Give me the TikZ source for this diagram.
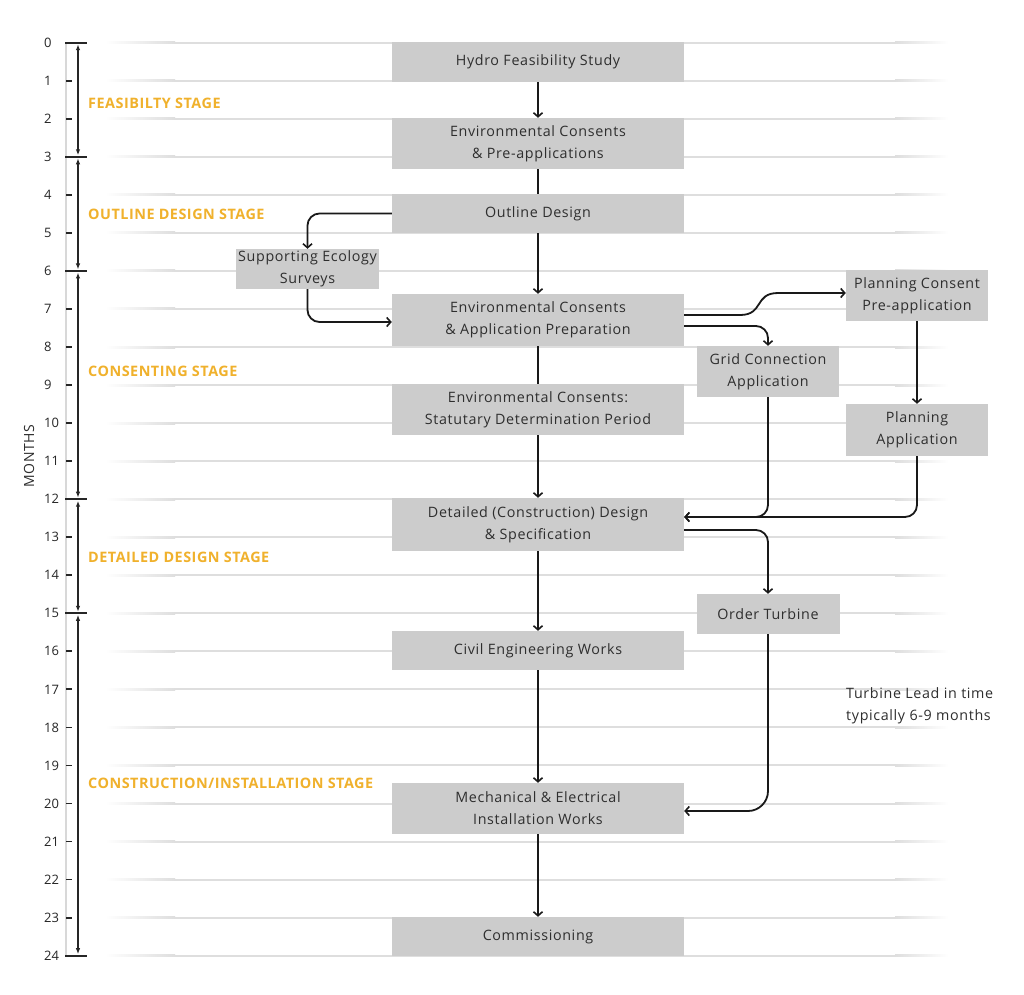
\documentclass[tikz,border=0pt]{standalone}
\usepackage{fontspec}
\setmainfont{Open Sans}
\newfontfamily\boxfont[LetterSpace=4.5]{Open Sans}
\newfontfamily\stagefont[LetterSpace=3.5]{Open Sans}
\usetikzlibrary{arrows.meta,calc}
\definecolor{boxgray}{HTML}{CCCCCC}
\definecolor{txt}{HTML}{2E2E2E}
\definecolor{gridl}{HTML}{DEDEDE}
\definecolor{stageor}{HTML}{F0B12C}
\definecolor{axisgray}{HTML}{D8D8D8}
\tikzset{
  box/.style={fill=boxgray, draw=none, text=txt, align=center, inner sep=0pt,
    font=\boxfont\fontsize{14.3}{22}\selectfont},
  arr/.style={line width=1.8pt, draw=black!90, -{Straight Barb[length=4pt,width=9pt,line width=1.6pt]}},
  conn/.style={line width=1.8pt, draw=black!90},
  stagearr/.style={line width=1.2pt, draw=black!85, {Latex[length=6pt,width=4.5pt]}-{Latex[length=6pt,width=4.5pt]}},
  stagelab/.style={anchor=west, text=stageor, font=\stagefont\fontsize{14.4}{16}\selectfont\bfseries, inner sep=0pt},
  monthlab/.style={anchor=west, text=black!85, font=\fontsize{13}{14}\selectfont, inner sep=0pt},
  tick/.style={line width=1.8pt, draw=black!85},
}
\begin{document}
\begin{tikzpicture}[x=1pt,y=-1pt]
\useasboundingbox[fill=white] (0,0) rectangle (1024,994);
% grid lines
\foreach \m in {0,...,24}{
  \pgfmathsetmacro\yy{42.7+38.04*\m}
  \shade[left color=white,right color=gridl] (105,\yy-1) rectangle (175,\yy+1);
  \fill[gridl] (175,\yy-1) rectangle (895,\yy+1);
  \shade[left color=gridl,right color=white] (895,\yy-1) rectangle (948,\yy+1);
}
% axis
\draw[axisgray, line width=1.5pt] (66,42.7) -- (66,955.7);
\foreach \m in {0,...,24}{
  \pgfmathsetmacro\yy{42.7+38.04*\m}
  \draw[tick] (66,\yy) -- (72,\yy);
  \node[monthlab] (m\m) at (44,\yy) {\m};
}
\foreach \m in {0,3,6,12,15,24}{
  \pgfmathsetmacro\yy{42.7+38.04*\m}
  \draw[tick] (65,\yy) -- (87,\yy);
}
\foreach \a/\b in {0/3,3/6,6/12,12/15,15/24}{
  \pgfmathsetmacro\ya{42.7+38.04*\a+1.5}
  \pgfmathsetmacro\yb{42.7+38.04*\b-1.5}
  \draw[stagearr] (78,\ya) -- (78,\yb);
}
\node[rotate=90, text=txt, font=\boxfont\fontsize{14}{16}\selectfont, inner sep=0pt] (months) at (29,456) {MONTHS};
% stage labels
\node[stagelab] (s1) at (88,103) {FEASIBILTY STAGE};
\node[stagelab] (s2) at (88,214) {OUTLINE DESIGN STAGE};
\node[stagelab] (s3) at (88,371) {CONSENTING STAGE};
\node[stagelab] (s4) at (88,557) {DETAILED DESIGN STAGE};
\node[stagelab] (s5) at (88,783) {CONSTRUCTION/INSTALLATION STAGE};
% boxes
\node[box, minimum width=292pt, minimum height=40pt] (hydro) at (538,62) {Hydro Feasibility Study};
\node[box, minimum width=292pt, minimum height=51pt] (envpre) at (538,143.5) {Environmental Consents\\\& Pre-applications};
\node[box, minimum width=292pt, minimum height=39pt] (outline) at (538,213.5) {Outline Design};
\node[box, minimum width=143pt, minimum height=40pt] (eco) at (307.5,269) {Supporting Ecology\\Surveys};
\node[box, minimum width=292pt, minimum height=52pt] (envapp) at (538,320) {Environmental Consents\\\& Application Preparation};
\node[box, minimum width=292pt, minimum height=51pt] (stat) at (538,409.5) {Environmental Consents:\\Statutary Determination Period};
\node[box, minimum width=142pt, minimum height=51pt] (pcp) at (917,295.5) {Planning Consent\\Pre-application};
\node[box, minimum width=142pt, minimum height=51pt] (grid) at (768,371.5) {Grid Connection\\Application};
\node[box, minimum width=142pt, minimum height=52pt] (papp) at (917,430) {Planning\\Application};
\node[box, minimum width=292pt, minimum height=53pt] (detail) at (538,524.5) {Detailed (Construction) Design\\\& Specification};
\node[box, minimum width=143pt, minimum height=40pt] (order) at (768,614) {Order Turbine};
\node[box, minimum width=292pt, minimum height=39pt] (civil) at (538,650.5) {Civil Engineering Works};
\node[box, minimum width=292pt, minimum height=51pt] (mech) at (538,808.5) {Mechanical \& Electrical\\Installation Works};
\node[box, minimum width=292pt, minimum height=39pt] (comm) at (538,936.5) {Commissioning};
\node[anchor=north west, align=left, text=txt, inner sep=0pt, font=\boxfont\fontsize{14.3}{22}\selectfont] (lead) at (846,687) {Turbine Lead in time\\typically 6-9 months};
% connectors
\draw[arr] (hydro) -- (envpre);
\draw[conn] (envpre) -- (outline);
\draw[arr] (outline) -- (envapp);
\draw[conn] (envapp) -- (stat);
\draw[arr] (stat) -- (detail);
\draw[arr] (detail) -- (civil);
\draw[arr] (civil) -- (mech);
\draw[arr] (mech) -- (comm);
\draw[arr, rounded corners=12pt] (outline.west) -| (eco.north);
\draw[arr, rounded corners=12pt] (eco.south) |- ([yshift=-2pt]envapp.west);
\draw[arr] ([yshift=5pt]envapp.east) -- (740,315) .. controls (764,315) and (754,293) .. (778,293) -- ([yshift=2.5pt]pcp.west);
\draw[arr, rounded corners=12pt] ([yshift=-6pt]envapp.east) -| (grid.north);
\draw[arr] (pcp) -- (papp);
\draw[arr, rounded corners=12pt] (grid.south) |- ([yshift=7.5pt]detail.east);
\draw[arr, rounded corners=12pt] (papp.south) |- ([yshift=7.5pt]detail.east);
\draw[arr, rounded corners=12pt] ([yshift=-5.5pt]detail.east) -| (order.north);
\draw[arr, rounded corners=20pt] (order.south) |- ([yshift=-2.5pt]mech.east);
\end{tikzpicture}
\end{document}
